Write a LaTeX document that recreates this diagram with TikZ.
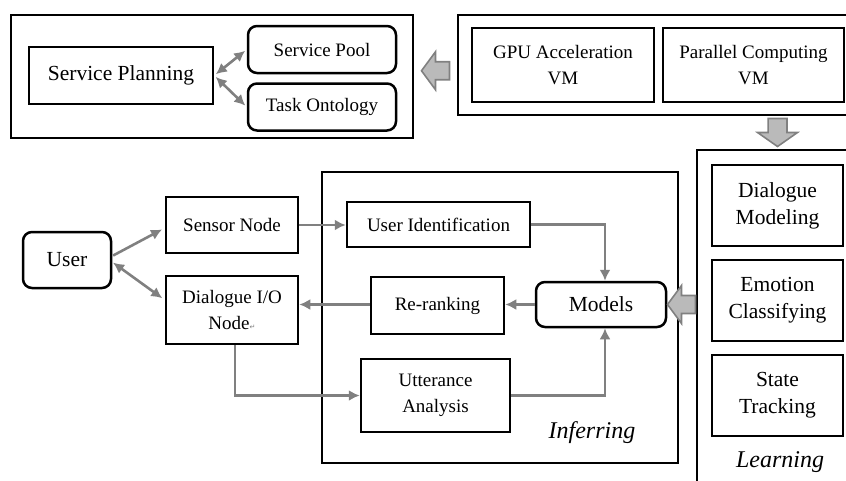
\documentclass[tikz,border=0pt]{standalone}
\usepackage{fontspec}
\setmainfont{Liberation Serif}
\newfontfamily\symfont{DejaVu Sans}
\usetikzlibrary{arrows.meta, positioning, calc}
\definecolor{linegray}{RGB}{128,128,128}
\definecolor{fatgray}{RGB}{186,186,186}
\tikzset{box/.style={rectangle,draw,line width=2.5pt,align=center,inner sep=2pt,font=\fontsize{19}{26}\selectfont},
  rbox/.style={box,rounded corners=9pt},
  big/.style={font=\fontsize{21.5}{27}\selectfont},
  frame/.style={rectangle,draw,line width=2.5pt,inner sep=0pt},
  tag/.style={font=\fontsize{24}{28}\selectfont\itshape},
  line/.style={draw=linegray,line width=2.6pt,-{Latex[length=11pt,width=11pt]}},
  dline/.style={line,{Latex[length=11pt,width=11pt]}-{Latex[length=11pt,width=11pt]}},
  fatline/.style={draw=linegray,fill=fatgray,line width=1.6pt,line join=miter},
  fatarrow/.pic={\draw[fatline] (-14,-9) -- (0,-9) -- (0,-19) -- (14,0) -- (0,19) -- (0,9) -- (-14,9) -- cycle;}}

\begin{document}
\begin{tikzpicture}[x=1pt,y=-1pt]
\useasboundingbox (0,0) rectangle (846,480);
\clip (0,0) rectangle (846,480);
% planning block
\node[frame, minimum width=402, minimum height=123] (planframe) at (212,76.5) {};
\node[box, big, minimum width=184, minimum height=57] (plan) at (121,75.5) {Service Planning};
\node[rbox, minimum width=148, minimum height=47] (pool) at (322,49.5) {Service Pool};
\node[rbox, minimum width=148, minimum height=47] (onto) at (322,107) {Task Ontology};
% virtual machines
\node[frame, minimum width=397, minimum height=100] (vmframe) at (656.5,65) {};
\node[box, minimum width=182, minimum height=74] (gpu) at (563,65) {GPU Acceleration\\VM};
\node[box, minimum width=181, minimum height=74] (par) at (753.5,65) {Parallel Computing\\VM};
% learning block
\node[frame, minimum width=163, minimum height=340] (learnframe) at (778.5,320) {};
\node[box, big, minimum width=131, minimum height=81] (dmod) at (777.5,205.5) {Dialogue\\Modeling};
\node[box, big, minimum width=131, minimum height=81] (emo) at (777.5,300.5) {Emotion\\Classifying};
\node[box, big, minimum width=131, minimum height=81] (track) at (777.5,395.5) {State\\Tracking};
\node[tag] (learning) at (780,462) {Learning};
% inferring block
\node[frame, minimum width=356, minimum height=291] (infframe) at (500,317.5) {};
\node[box, minimum width=183, minimum height=45] (uid) at (438.5,224.5) {User Identification};
\node[box, minimum width=133, minimum height=57] (rerank) at (437.5,305.5) {Re-ranking};
\node[rbox, big, minimum width=130, minimum height=45] (models) at (601,304.5) {Models};
\node[box, minimum width=149, minimum height=73] (utter) at (435.5,395.5) {Utterance\\Analysis};
\node[tag] (inferring) at (592,433) {Inferring};
% user side
\node[rbox, big, minimum width=88, minimum height=56] (user) at (67,260) {User};
\node[box, minimum width=132, minimum height=56] (sensor) at (232,225) {Sensor Node};
\node[box, minimum width=132, minimum height=68] (dio) at (232,310) {Dialogue I/O\\Node{\symfont\fontsize{7}{7}\selectfont\color{linegray}↵}};

\draw[dline, shorten <=2pt, shorten >=2pt] (plan.east) -- (pool.west);
\draw[dline, shorten <=2pt, shorten >=2pt] (plan.east) -- (onto.west);
\draw[line, shorten <=1pt, shorten >=3pt] ([yshift=4pt]user.east) -- ([yshift=-3pt]sensor.west);
\draw[dline, shorten <=1pt, shorten >=3pt] ([yshift=-2pt]user.east) -- ([yshift=10pt]dio.west);
\draw[line] (sensor.east) -- (sensor.east -| uid.west);
\draw[line] (uid.east) -| ([xshift=4pt]models.north);
\draw[line] (models.west) -- (models.west -| rerank.east);
\draw[line] (models.west -| rerank.west) -- (models.west -| dio.east);
\draw[line] ([xshift=3pt]dio.south) |- (utter.west);
\draw[line] (utter.east) -| ([xshift=4pt]models.south);

\pic[rotate=180] at ($(planframe.east)!0.5!(vmframe.west)$) {fatarrow};
\pic[rotate=-90, yscale=1.05] at ($(vmframe.south -| dmod)!0.5!(learnframe.north -| dmod)$) {fatarrow};
\pic[rotate=180] at ($(models.east)!0.5!(models.east -| learnframe.west)$) {fatarrow};
\end{tikzpicture}
\end{document}
